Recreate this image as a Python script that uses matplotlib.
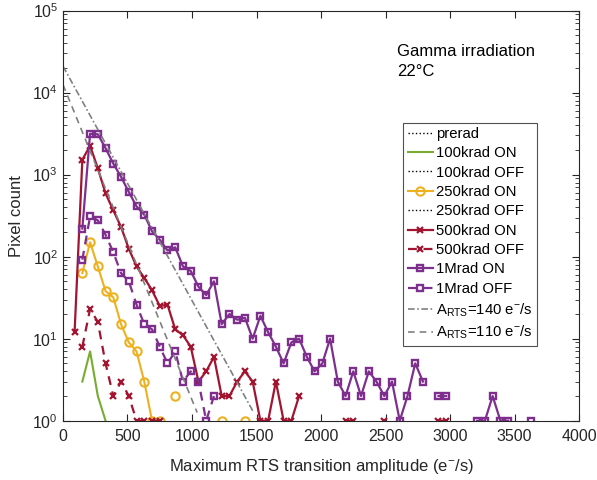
import numpy as np
import matplotlib
matplotlib.use("Agg")
import matplotlib.pyplot as plt
from matplotlib.ticker import LogLocator, NullFormatter

plt.rcParams['font.family'] = ['Liberation Sans', 'DejaVu Sans']
plt.rcParams['mathtext.default'] = 'regular'

# bin centres (e-/s) and pixel counts per bin, 0 = empty bin
bins = np.arange(90, 3700, 60)

on_100k = [0, 3, 7, 2, 1]
on_250k = [0, 63, 150, 76, 38, 32, 15, 9, 7, 3, 1, 1, 0, 2, 0, 0, 0, 0, 0, 1,
           0, 0, 1]
on_500k = [12, 1520, 2250, 1190, 590, 367, 230, 125, 76, 55, 39, 25, 26, 13, 11,
           8, 3, 4, 6, 2, 2, 3, 4, 3, 1, 1, 3, 1, 1, 2, 0, 0, 0, 0, 0, 1, 1, 0,
           0, 0, 1, 0, 0, 0, 0, 0, 0, 1, 1]
off_500k = [0, 8, 23, 16, 5, 2, 3, 2, 1, 1, 1, 1]
on_1M = [0, 220, 3150, 3100, 2100, 1360, 940, 615, 410, 325, 204, 161, 119, 130,
         76, 67, 43, 34, 50, 15, 20, 17, 18, 10, 19, 12, 8, 5, 9, 10, 6, 4, 5,
         10, 3, 2, 4, 2, 4, 3, 2, 3, 1, 2, 5, 3, 0, 2, 2, 0, 0, 0, 1, 1, 2, 1,
         1, 0, 0, 1]
off_1M = [0, 92, 310, 277, 185, 113, 63, 50, 26, 15, 13, 8, 5, 7, 3, 4, 3, 1, 2]

# exponential guides N0*exp(-x/A) as drawn
guide_labels = [r'A$_{RTS}$=140 e$^{-}$/s', r'A$_{RTS}$=110 e$^{-}$/s']
guide_n0 = [2.1e4, 1.25e4]
guide_a = [152, 113]
guide_xmax = [1470, 1040]


def series(vals):
    v = np.array(vals, dtype=float)
    v[v == 0] = np.nan
    return bins[:len(v)], v


green = '#77AC30'
yellow = '#EDB120'
red = '#A2142F'
purple = '#7E2F8E'
grey = '#808080'

fig = plt.figure(figsize=(5.97, 4.8), dpi=100)
ax = fig.add_axes([0.1055, 0.1235, 0.8645, 0.8545])

ax.plot([], [], ':', color='k', lw=1, label='prerad')
x, y = series(on_100k)
ax.plot(x, y, '-', color=green, lw=1.5, label='100krad ON')
ax.plot([], [], ':', color='k', lw=1, label='100krad OFF')
x, y = series(on_250k)
ax.plot(x, y, '-', color=yellow, lw=1.5, marker='o', ms=6, mfc='none',
        mew=1.5, label='250krad ON')
ax.plot([], [], ':', color='k', lw=1, label='250krad OFF')
x, y = series(on_500k)
ax.plot(x, y, '-', color=red, lw=1.6, marker='x', ms=4.5, mew=1.6,
        label='500krad ON')
x, y = series(off_500k)
ax.plot(x, y, color=red, lw=1.6, ls=(0, (4, 3)), marker='x', ms=4.5, mew=1.6,
        label='500krad OFF')
x, y = series(on_1M)
ax.plot(x, y, '-', color=purple, lw=1.6, marker='s', ms=5, mfc='none',
        mew=1.7, label='1Mrad ON')
x, y = series(off_1M)
ax.plot(x, y, color=purple, lw=1.6, ls=(0, (4, 3)), marker='s', ms=5,
        mfc='none', mew=1.7, label='1Mrad OFF')

styles = [(0, (4, 1.5, 1, 1.5)), (0, (4, 3))]
for lab, n0, a, xm, st in zip(guide_labels, guide_n0, guide_a, guide_xmax, styles):
    xs = np.linspace(0, xm, 200)
    ax.plot(xs, n0 * np.exp(-xs / a), color=grey, lw=1.2, ls=st, label=lab)

ax.set_yscale('log')
ax.set_xlim(0, 4000)
ax.set_ylim(1, 1e5)
ax.set_xticks(np.arange(0, 4001, 500))
ax.yaxis.set_minor_locator(LogLocator(base=10, subs=np.arange(2, 10), numticks=20))
ax.yaxis.set_minor_formatter(NullFormatter())

ax.tick_params(which='both', direction='in', top=True, right=True,
               colors='#262626', labelsize=11.5)
ax.tick_params(which='major', length=5, width=0.8)
ax.tick_params(which='minor', length=3, width=0.6)
ax.tick_params(axis='x', pad=6)
for s in ax.spines.values():
    s.set_color('#262626')
    s.set_linewidth(0.8)

ax.set_xlabel(r'Maximum RTS transition amplitude (e$^{-}$/s)', fontsize=12,
              color='#262626', labelpad=9)
ax.set_ylabel('Pixel count', fontsize=12, color='#262626', labelpad=6)

ax.text(0.647, 0.918, 'Gamma irradiation\n22\u00b0C', transform=ax.transAxes,
        fontsize=12, va='top', linespacing=1.4)

leg = ax.legend(loc='upper left', bbox_to_anchor=(0.659, 0.727), fontsize=10.7,
                frameon=True, fancybox=False, edgecolor='#262626',
                handlelength=1.7, handletextpad=0.2, borderpad=0.3,
                labelspacing=0.36, borderaxespad=0)
leg.get_frame().set_linewidth(0.8)

fig.savefig('out.png', dpi=100)
